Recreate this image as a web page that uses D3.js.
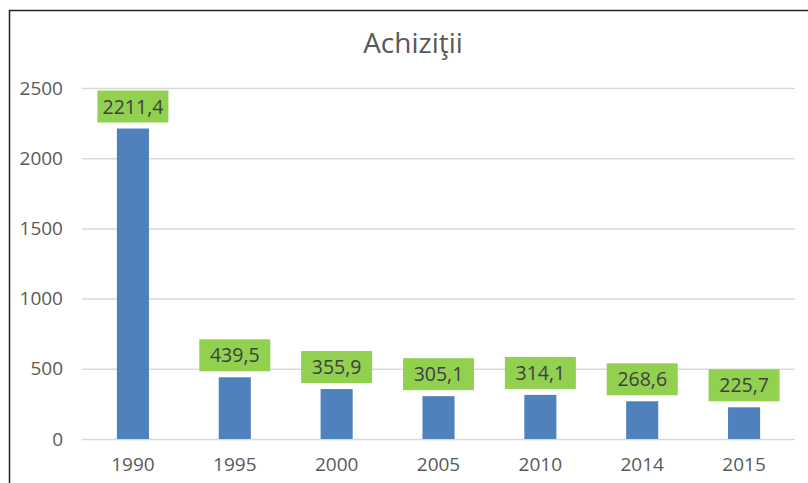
<!DOCTYPE html>
<html>
<head>
<meta charset="utf-8">
<script src="https://cdn.jsdelivr.net/npm/d3@7"></script>
<style>
  body { margin: 0; background: #fff; }
  svg { display: block; font-family: "Open Sans", sans-serif; }
</style>
</head>
<body>
<svg id="chart" width="808" height="483"></svg>
<script>
var years = ['1990', '1995', '2000', '2005', '2010', '2014', '2015'];
var values = [2211.4, 439.5, 355.9, 305.1, 314.1, 268.6, 225.7];
var yTicks = [0, 500, 1000, 1500, 2000, 2500];
var title = 'Achiziţii';

var margin = {
  top: 88,
  right: 13,
  bottom: 44,
  left: 82
};
var width = 808 - margin.left - margin.right;
var height = 483 - margin.top - margin.bottom;

var root = d3.select('#chart');

// chart frame (cut off at right and bottom in the original)
root.append('rect')
  .attr('x', 9.5)
  .attr('y', 10.5)
  .attr('width', 900)
  .attr('height', 600)
  .attr('fill', 'none')
  .attr('stroke', '#222')
  .attr('stroke-width', 1.5);

root.append('text')
  .attr('x', 413)
  .attr('y', 53)
  .attr('text-anchor', 'middle')
  .attr('font-size', '28px')
  .attr('fill', '#595959')
  .text(title);

var svg = root.append('g')
  .attr('transform', 'translate(' + margin.left + ', ' + margin.top + ')');

var xScale = d3.scaleBand()
  .domain(years)
  .range([0, width]);
var yScale = d3.scaleLinear()
  .domain([0, 2500])
  .range([height, 0]);

var yAxis = d3.axisLeft()
  .scale(yScale)
  .tickValues(yTicks)
  .tickFormat(d3.format('d'))
  .tickSize(-width)
  .tickPadding(19);

var gy = svg.append('g')
  .attr('class', 'axis')
  .call(yAxis);
gy.select('.domain').remove();
gy.selectAll('line')
  .attr('stroke', '#d9d9d9')
  .attr('stroke-width', 1.5);
gy.selectAll('text')
  .attr('font-size', '19px')
  .attr('font-family', '"Open Sans", sans-serif')
  .attr('fill', '#595959');

var xAxis = d3.axisBottom()
  .scale(xScale)
  .tickSize(0)
  .tickPadding(19);

var gx = svg.append('g')
  .attr('class', 'axis')
  .attr('transform', 'translate(0, ' + height + ')')
  .call(xAxis);
gx.select('.domain').remove();
gx.selectAll('text')
  .attr('font-size', '19px')
  .attr('font-family', '"Open Sans", sans-serif')
  .attr('fill', '#595959');

var barW = xScale.bandwidth() * 0.315;

svg.selectAll('.bar')
  .data(values)
  .enter()
  .append('rect')
  .attr('class', 'bar')
  .attr('x', function (d, i) {
    return xScale(years[i]) + xScale.bandwidth() / 2 - barW / 2;
  })
  .attr('y', function (d) {
    return yScale(d);
  })
  .attr('width', barW)
  .attr('height', function (d) {
    return height - yScale(d);
  })
  .attr('fill', '#4f81bd');

var labels = svg.selectAll('.lbl')
  .data(values)
  .enter()
  .append('g')
  .attr('class', 'lbl')
  .attr('transform', function (d, i) {
    return 'translate(' + (xScale(years[i]) + xScale.bandwidth() / 2) + ', ' + (yScale(d) - 6) + ')';
  });

labels.append('rect')
  .attr('x', -35.5)
  .attr('y', -32)
  .attr('width', 71)
  .attr('height', 32)
  .attr('fill', '#92d050');

labels.append('text')
  .attr('y', -9)
  .attr('text-anchor', 'middle')
  .attr('font-size', '19.5px')
  .attr('fill', '#404040')
  .text(function (d) {
    return d.toFixed(1).replace('.', ',');
  });
</script>
</body>
</html>
